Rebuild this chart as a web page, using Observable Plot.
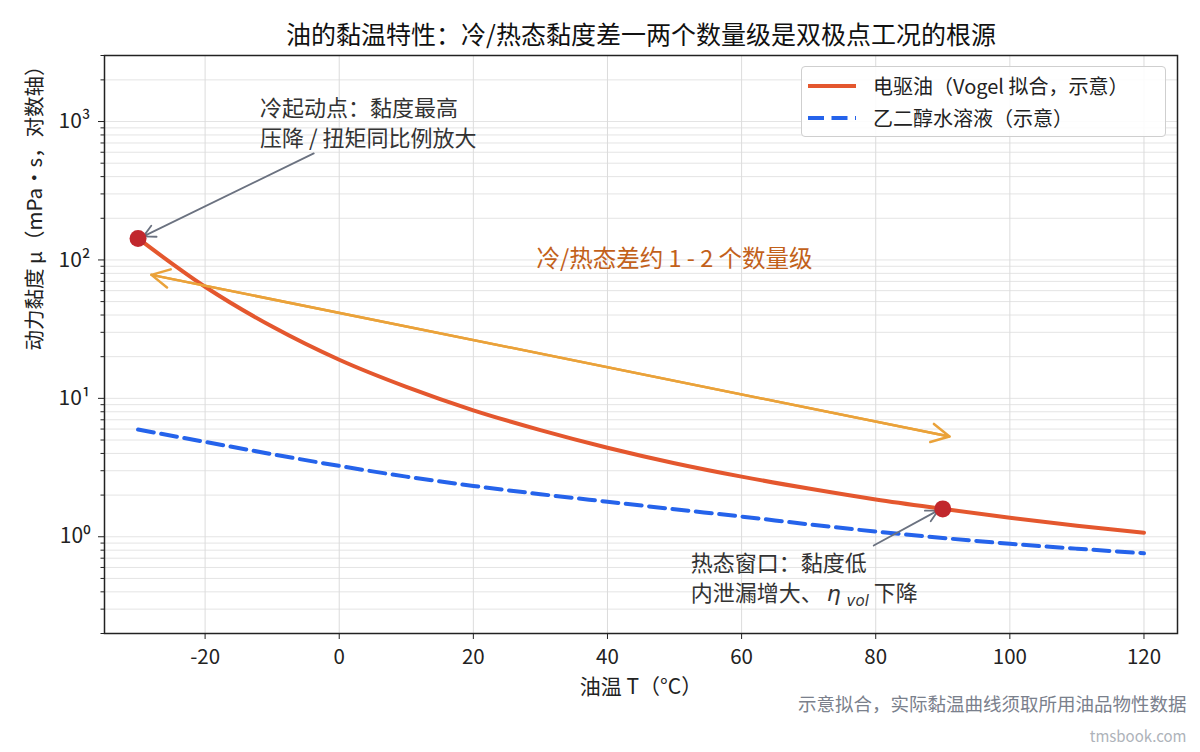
<!DOCTYPE html>
<html>
<head>
<meta charset="utf-8">
<script src="https://cdn.jsdelivr.net/npm/d3@7"></script>
<script src="https://cdn.jsdelivr.net/npm/@observablehq/plot@0.6"></script>
<style>
  body { margin: 0; background: #fff; }
  #wrap { position: relative; width: 1200px; height: 752px; font-family: "Noto Sans CJK SC", "Noto Sans", sans-serif; }
  #wrap svg.plot { position: absolute; left: 0; top: 0; }
  #legend { position: absolute; left: 801px; top: 66px; width: 363px; height: 69px; border: 1px solid #cfcfcf; border-radius: 4px; background: rgba(255,255,255,0.88); }
  #legend .lt { position: absolute; left: 71px; font-size: 20px; line-height: 20px; color: #222; white-space: nowrap; }
</style>
</head>
<body>
<div id="wrap"></div>
<script>
// ---- data ----
const temps      = [-30, -20, -10, 0, 10, 20, 30, 40, 50, 60, 70, 80, 90, 100, 110, 120];
const oilVisc    = [143, 64, 33, 19, 12.1, 8.2, 5.9, 4.4, 3.4, 2.72, 2.23, 1.86, 1.59, 1.37, 1.2, 1.07];
const glycolVisc = [5.95, 4.85, 3.95, 3.25, 2.72, 2.33, 2.03, 1.79, 1.58, 1.40, 1.23, 1.09, 0.98, 0.89, 0.82, 0.76];
const keyPoints  = [{t: -30, mu: 143}, {t: 90, mu: 1.59}];
const xTicks     = [-20, 0, 20, 40, 60, 80, 100, 120];
const yTicks     = [1, 10, 100, 1000];
const yTickLabels = ["10⁰", "10¹", "10²", "10³"];
const seriesNames = ["电驱油（Vogel 拟合，示意）", "乙二醇水溶液（示意）"];
const titleText  = "油的黏温特性：冷/热态黏度差一两个数量级是双极点工况的根源";
const xLabel     = "油温 T（°C）";
const yLabel     = "动力黏度 μ（mPa·s，对数轴）";
const captionText = "示意拟合，实际黏温曲线须取所用油品物性数据";
const watermark  = "tmsbook.com";
const rangeNote  = [{t: 50, mu: 100, text: "冷/热态差约 1 - 2 个数量级"}];
const coldNote   = [{t: -11.8, mu: 1000, text: "冷起动点：黏度最高\n压降 / 扭矩同比例放大"}];
const hotNote    = [{t: 52.4, mu: 0.52, text: "热态窗口：黏度低\n内泄漏增大、η vol 下降"}];
const rangeArrow = [
  {x1: 91, y1: 5.3, x2: -28, y2: 78},
  {x1: -28, y1: 78, x2: 91, y2: 5.3}
];
const noteArrows = [
  {x1: -3.8, y1: 589, x2: -29.2, y2: 148},
  {x1: 79.7, y1: 0.865, x2: 89.3, y2: 1.55}
];

const oil = temps.map((t, i) => ({t, mu: oilVisc[i]}));
const glycol = temps.map((t, i) => ({t, mu: glycolVisc[i]}));
const yMinor = [];
for (let k = -1; k <= 3; k++) for (let m = 1; m <= 9; m++) {
  const v = +(m * Math.pow(10, k)).toPrecision(3);
  if (v >= 0.2 && v <= 3000) yMinor.push(v);
}
const labelOf = new Map(yTicks.map((v, i) => [v, yTickLabels[i]]));

const plot = Plot.plot({
  width: 1200,
  height: 752,
  marginTop: 55,
  marginBottom: 119,
  marginLeft: 104,
  marginRight: 23,
  style: {fontFamily: '"Noto Sans CJK SC", "Noto Sans", sans-serif', fontSize: "20px", color: "#222", background: "transparent"},
  x: {domain: [-35, 125], label: null},
  y: {type: "log", domain: [0.2, 3000], label: null},
  marks: [
    Plot.gridY(yMinor, {stroke: "#e4e4e4", strokeOpacity: 1, strokeWidth: 1}),
    Plot.gridX(xTicks, {stroke: "#dcdcdc", strokeOpacity: 1, strokeWidth: 1}),
    Plot.line(glycol, {x: "t", y: "mu", stroke: "#2563eb", strokeWidth: 4, strokeDasharray: "16,7.5", curve: "monotone-x"}),
    Plot.line(oil, {x: "t", y: "mu", stroke: "#e4572e", strokeWidth: 4, curve: "monotone-x"}),
    Plot.arrow(rangeArrow, {x1: "x1", y1: "y1", x2: "x2", y2: "y2", stroke: "#eaa23a", strokeWidth: 2.5, headLength: 12, headAngle: 55}),
    Plot.arrow(noteArrows, {x1: "x1", y1: "y1", x2: "x2", y2: "y2", stroke: "#6b7280", strokeWidth: 1.8, headLength: 11, headAngle: 55}),
    Plot.dot(keyPoints, {x: "t", y: "mu", r: 8.5, fill: "#c1272d", stroke: "none"}),
    Plot.text(rangeNote, {x: "t", y: "mu", text: "text", fontSize: 23.5, fill: "#c2611a", textAnchor: "middle"}),
    Plot.text(coldNote, {x: "t", y: "mu", text: "text", fontSize: 22, fill: "#333", textAnchor: "start", lineAnchor: "middle", lineHeight: 1.38}),
    Plot.text(hotNote, {x: "t", y: "mu", text: "text", fontSize: 22, fill: "#333", textAnchor: "start", lineAnchor: "middle", lineHeight: 1.38}),
    Plot.frame({stroke: "#222", strokeWidth: 1.5}),
    Plot.axisX(xTicks, {tickSize: 6, tickPadding: 10, fontSize: 20.5, tickFormat: (d) => String(d), label: null}),
    Plot.axisY(yMinor.filter((v) => !labelOf.has(v)), {tickSize: 3.5, tickFormat: () => "", label: null}),
    Plot.axisY(yTicks, {tickSize: 6, tickPadding: 8, fontSize: 21, tickFormat: (d) => labelOf.get(d), label: null}),
    Plot.text([titleText], {frameAnchor: "top", dy: -20, lineAnchor: "middle", fontSize: 25, fill: "#111"}),
    Plot.text([xLabel], {frameAnchor: "bottom", dy: 54, lineAnchor: "middle", fontSize: 21, fill: "#222"}),
    Plot.text([yLabel], {frameAnchor: "left", dx: -69, dy: 6, lineAnchor: "middle", rotate: -90, fontSize: 20.5, fill: "#222"}),
    Plot.text([captionText], {frameAnchor: "bottom-right", dx: 9, dy: 72, lineAnchor: "middle", textAnchor: "end", fontSize: 18.5, fill: "#7a808c"}),
    Plot.text([watermark], {frameAnchor: "bottom-right", dx: 9, dy: 104, lineAnchor: "middle", textAnchor: "end", fontSize: 15, fill: "#aeb3ba"})
  ]
});
plot.classList.add("plot");

// eta_vol with italic + subscript
d3.select(plot).selectAll("tspan").each(function () {
  const s = this.textContent;
  if (s.includes("η vol")) {
    const sel = d3.select(this);
    sel.text("内泄漏增大、");
    sel.append("tspan").text("η").attr("font-style", "italic").attr("font-family", "DejaVu Sans").attr("dx", 4);
    sel.append("tspan").text("vol").attr("font-style", "italic").attr("font-family", "DejaVu Sans").attr("font-size", 15).attr("dx", 6).attr("dy", 5);
    sel.append("tspan").text(" 下降").attr("dy", -5);
  }
});

const wrap = document.getElementById("wrap");
wrap.appendChild(plot);

// legend
const legend = document.createElement("div");
legend.id = "legend";
legend.innerHTML =
  '<svg width="363" height="69" style="position:absolute;left:0;top:0">' +
  '<line x1="6" x2="54" y1="19" y2="19" stroke="#e4572e" stroke-width="4"/>' +
  '<line x1="6" x2="54" y1="51" y2="51" stroke="#2563eb" stroke-width="4" stroke-dasharray="16,7.5"/>' +
  '</svg>';
seriesNames.forEach((n, i) => {
  const d = document.createElement("div");
  d.className = "lt";
  d.style.top = (9 + i * 32) + "px";
  d.textContent = n;
  legend.appendChild(d);
});
wrap.appendChild(legend);
</script>
</body>
</html>
